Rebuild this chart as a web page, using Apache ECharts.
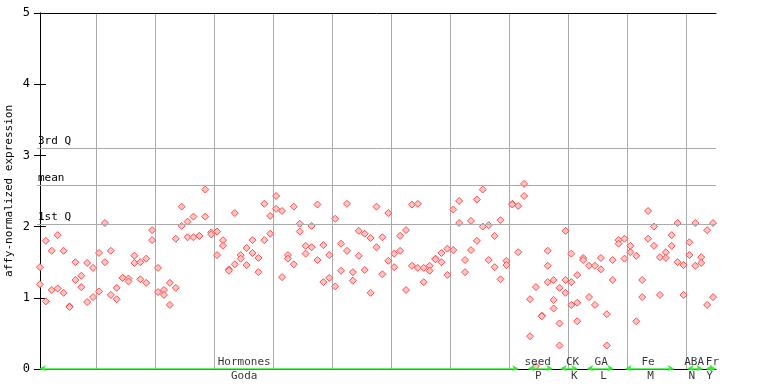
<!DOCTYPE html>
<html>
<head>
<meta charset="utf-8">
<script src="https://cdn.jsdelivr.net/npm/echarts@6/dist/echarts.min.js"></script>
<style>html,body{margin:0;padding:0;background:#fff;}#c{width:768px;height:384px;}</style>
</head>
<body>
<div id="c"></div>
<script>
// replicate values per sample column (index 0..114)
const rep1 = [1.43,1.80,1.66,1.88,1.66,0.88,1.50,1.31,1.49,1.42,
  1.63,2.05,1.66,1.14,1.28,1.27,1.59,1.50,1.55,1.95,
  1.42,1.11,1.21,1.83,2.28,2.07,2.14,1.87,2.52,1.92,
  1.93,1.81,1.40,2.19,1.60,1.70,1.81,1.56,2.32,2.15,
  2.43,2.22,1.60,2.28,2.04,1.73,2.01,2.31,1.74,1.60,
  2.11,1.76,2.32,1.36,1.94,1.90,1.84,2.28,1.85,2.19,
  1.62,1.87,1.95,2.31,2.32,1.42,1.45,1.55,1.63,1.69,
  2.24,2.36,1.53,2.08,2.38,2.52,2.02,1.87,2.09,1.52,
  2.32,2.29,2.60,0.98,1.15,0.75,1.66,1.25,1.14,1.94,
  1.62,1.32,1.56,1.45,1.45,1.56,0.77,1.53,1.81,1.83,
  1.73,1.59,1.25,2.22,2.00,1.57,1.64,1.88,2.05,1.46,
  1.78,2.05,1.57,1.95,2.05];
const rep2 = [1.19,0.95,1.11,1.13,1.07,0.87,1.25,1.15,0.94,1.01,
  1.09,1.50,1.04,0.98,1.28,1.23,1.49,1.26,1.21,1.81,
  1.08,1.04,0.90,1.14,2.01,1.85,1.85,1.87,2.14,1.89,
  1.60,1.73,1.38,1.47,1.55,1.46,1.63,1.36,1.81,1.90,
  2.25,1.29,1.55,1.47,1.93,1.62,1.71,1.53,1.22,1.28,
  1.16,1.38,1.66,1.24,1.59,1.39,1.07,1.71,1.33,1.52,
  1.43,1.66,1.11,1.45,1.42,1.22,1.38,1.54,1.50,1.32,
  1.67,2.05,1.36,1.67,1.80,2.00,1.53,1.43,1.26,1.46,
  2.31,1.64,2.43,0.46,0.04,0.74,1.45,0.97,0.64,1.25,
  1.22,0.93,1.53,1.01,0.90,1.40,0.33,1.25,1.76,1.55,
  1.64,0.67,1.01,1.83,1.73,1.04,1.56,1.73,1.50,1.04,
  1.60,1.45,1.49,0.90,1.01];
// third replicate only in a few columns
const rep3Index = [86,87,88,89,90,91];
const rep3Value = [1.22,0.85,0.33,1.07,0.90,0.67];

// reference lines
const refNames = ['3rd Q','mean','1st Q'];
const refValues = [3.10,2.58,2.03];

// groups along the bottom
const groupNames = ['Hormones','seed','CK','GA','Fe','ABA','Fr'];
const groupCodes = ['Goda','P','K','L','M','N','Y'];
const groupStart = [0,82.7,88.2,92.7,99.2,109.7,112.9];
const groupEnd   = [81,86.8,91.0,97.1,107.3,112.2,114.4];
const groupNameAt = [34.6,84.3,90.2,95.05,103.0,110.8,113.9];
const groupCodeAt = [34.6,84.4,90.5,95.45,103.4,110.4,113.4];

const yTicks = [0,1,2,3,4,5];

const points = [];
for (let i = 0; i < rep1.length; i++) {
  points.push([i, rep1[i]]);
  points.push([i, rep2[i]]);
}
rep3Index.forEach((idx, k) => points.push([idx, rep3Value[k]]));

const mono = "'DejaVu Sans Mono', monospace";
const green = '#33ee33';

const chart = echarts.init(document.getElementById('c'), null, {renderer: 'canvas'});
chart.setOption({
  animation: false,
  grid: {left: 37, top: 13, width: 679, height: 356, containLabel: false, outerBoundsMode: 'none'},
  xAxis: [{
    type: 'value', min: -0.5, max: rep1.length - 0.5, interval: 10, position: 'bottom',
    axisLine: {show: true, onZero: false, lineStyle: {color: '#000', width: 1}},
    axisTick: {show: false}, axisLabel: {show: false},
    splitLine: {show: true, showMinLine: false, showMaxLine: false, lineStyle: {color: '#aaaaaa', width: 1}}
  }, {
    type: 'value', min: -0.5, max: rep1.length - 0.5, position: 'top',
    axisLine: {show: true, onZero: false, lineStyle: {color: '#000', width: 1}},
    axisTick: {show: false}, axisLabel: {show: false}, splitLine: {show: false}
  }],
  yAxis: [{
    type: 'value', min: yTicks[0], max: yTicks[yTicks.length - 1], interval: 1, position: 'left',
    name: 'affy-normalized expression', nameLocation: 'middle', nameGap: 22, nameMoveOverlap: false,
    nameTextStyle: {fontFamily: mono, fontSize: 11, color: '#000'},
    axisLine: {show: true, lineStyle: {color: '#000', width: 1}},
    axisTick: {show: true, inside: true, length: 6, lineStyle: {color: '#000'}},
    axisLabel: {fontFamily: mono, fontSize: 12, color: '#000', margin: 7},
    splitLine: {show: false}
  }, {
    type: 'value', min: yTicks[0], max: yTicks[yTicks.length - 1], interval: 1, position: 'right',
    axisLine: {show: true, lineStyle: {color: '#000', width: 1}},
    axisTick: {show: true, inside: true, length: 6, lineStyle: {color: '#000'}},
    axisLabel: {show: false}, splitLine: {show: false}
  }],
  series: [{
    type: 'scatter',
    data: points,
    symbol: 'diamond',
    symbolSize: 7,
    itemStyle: {color: '#ffc4c4', borderColor: '#ff4f4f', borderWidth: 1, opacity: 1},
    markLine: {
      silent: true, symbol: 'none', animation: false,
      lineStyle: {color: '#aaaaaa', width: 1, type: 'solid'},
      label: {show: true, position: 'insideStartTop', formatter: '{b}', fontFamily: mono, fontSize: 11, color: '#000', distance: [1, 2]},
      data: refNames.map((n, k) => ({name: n, yAxis: refValues[k]}))
    },
    z: 3
  }, {
    type: 'scatter',
    data: groupNames.map((n, k) => ({name: n, value: [groupNameAt[k], 0]})),
    symbolSize: 0,
    silent: true,
    label: {show: true, position: 'top', distance: 1, formatter: '{b}', fontFamily: mono, fontSize: 11, color: '#000'},
    markLine: {
      silent: true, animation: false,
      symbol: ['arrow', 'arrow'], symbolSize: [5, 6],
      lineStyle: {color: green, width: 1.5, type: 'solid'},
      label: {show: false},
      data: groupStart.map((s, k) => [{coord: [s, 0.01]}, {coord: [groupEnd[k], 0.01]}])
    },
    z: 4
  }, {
    type: 'scatter',
    data: groupCodes.map((n, k) => ({name: n, value: [groupCodeAt[k], 0]})),
    symbolSize: 0,
    silent: true,
    label: {show: true, position: 'bottom', distance: 2, formatter: '{b}', fontFamily: mono, fontSize: 11, color: '#000'},
    z: 4
  }]
});
</script>
</body>
</html>
